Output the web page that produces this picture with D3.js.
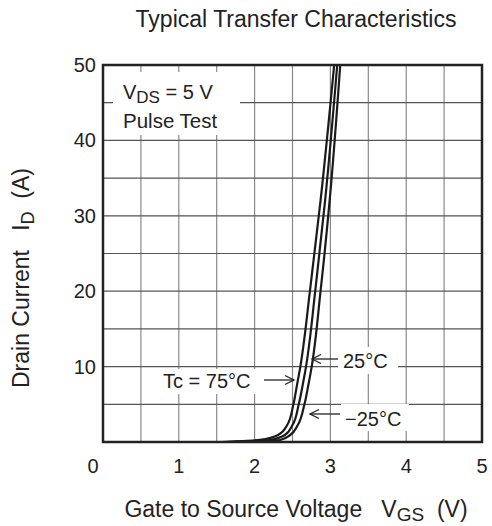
<!DOCTYPE html>
<html>
<head>
	<script src="https://cdn.jsdelivr.net/npm/d3@7"></script>
	<style>
		html, body {
			padding: 0;
			margin: 0;
			background: white;
		}
		text {
			font-family: "Liberation Sans", Arial, sans-serif;
			fill: #222;
			white-space: pre;
		}
	</style>
</head>
<body>
	<script>
		var width = 492, height = 526;

		// data
		var xTicks = [0, 1, 2, 3, 4, 5];
		var yTicks = [10, 20, 30, 40, 50];
		var currents = [0, 0.27, 0.93, 2.25, 4.9, 7.6, 9.5, 20, 32, 50];
		var vgs75  = [1.55, 2.07, 2.31, 2.43, 2.51, 2.56, 2.595, 2.73, 2.87, 3.05];
		var vgs25  = [1.62, 2.20, 2.40, 2.50, 2.58, 2.635, 2.67, 2.80, 2.93, 3.09];
		var vgsM25 = [1.70, 2.34, 2.47, 2.57, 2.655, 2.71, 2.745, 2.87, 2.99, 3.13];

		var svg = d3.select('body').append('svg')
			.attr('width', width)
			.attr('height', height);

		var x = d3.scaleLinear().domain([0, 5]).range([103, 482]);
		var y = d3.scaleLinear().domain([0, 50]).range([442, 65]);

		/* grid */
		var vGrid = d3.range(0.5, 5, 0.5);
		var hGrid = d3.range(5, 50, 5);
		svg.selectAll('.vg').data(vGrid).enter().append('line')
			.attr('x1', d => x(d)).attr('x2', d => x(d))
			.attr('y1', y(50)).attr('y2', y(0))
			.style('stroke', '#8a8a8a').style('stroke-width', 1.2);
		svg.selectAll('.hg').data(hGrid).enter().append('line')
			.attr('x1', x(0)).attr('x2', x(5))
			.attr('y1', d => y(d)).attr('y2', d => y(d))
			.style('stroke', '#555').style('stroke-width', 1.2);

		/* white boxes behind text, covering grid */
		var boxes = [
			[113, 72, 127, 63],
			[158, 369, 100, 25],
			[338, 347, 60, 27],
			[341, 404, 68, 27]
		];
		boxes.forEach(function(b) {
			svg.append('rect').attr('x', b[0]).attr('y', b[1])
				.attr('width', b[2]).attr('height', b[3]).style('fill', 'white');
		});

		/* curves */
		var line = d3.line()
			.x(d => x(d[0]))
			.y(d => y(d[1]))
			.curve(d3.curveMonotoneY);
		[vgs75, vgs25, vgsM25].forEach(function(v) {
			svg.append('path')
				.datum(v.map((vv, j) => [vv, currents[j]]))
				.attr('d', line)
				.style('fill', 'none')
				.style('stroke', '#1a1a1a')
				.style('stroke-width', 2.2);
		});

		/* frame */
		svg.append('rect')
			.attr('x', x(0)).attr('y', y(50))
			.attr('width', x(5) - x(0)).attr('height', y(0) - y(50))
			.style('fill', 'none').style('stroke', '#222').style('stroke-width', 2.5);

		/* tick labels */
		svg.selectAll('.xt').data(xTicks).enter().append('text')
			.attr('x', d => x(d) + (d === 0 ? -10 : 0))
			.attr('y', 473)
			.attr('text-anchor', 'middle')
			.style('font-size', '20px')
			.text(d => d);
		svg.selectAll('.yt').data(yTicks).enter().append('text')
			.attr('x', 96)
			.attr('y', d => y(d) + 7)
			.attr('text-anchor', 'end')
			.style('font-size', '20px')
			.text(d => d);

		/* title and axis titles */
		svg.append('text').attr('x', 296).attr('y', 27)
			.attr('text-anchor', 'middle').style('font-size', '23px')
			.text('Typical Transfer Characteristics');

		var xl = svg.append('text').attr('x', 296).attr('y', 517)
			.attr('text-anchor', 'middle').style('font-size', '23px');
		xl.append('tspan').text('Gate to Source Voltage   V');
		xl.append('tspan').attr('dy', 4).style('font-size', '19px').text('GS');
		xl.append('tspan').attr('dy', -4).text('  (V)');

		var yl = svg.append('text')
			.attr('transform', 'translate(29,278) rotate(-90)')
			.attr('text-anchor', 'middle').style('font-size', '23px');
		yl.append('tspan').text('Drain Current   I');
		yl.append('tspan').attr('dy', 5).style('font-size', '18px').text('D');
		yl.append('tspan').attr('dy', -5).text('  (A)');

		/* legend */
		var lg = svg.append('text').attr('x', 123).attr('y', 99).style('font-size', '20px');
		lg.append('tspan').text('V');
		lg.append('tspan').attr('dy', 4).style('font-size', '17px').text('DS');
		lg.append('tspan').attr('dy', -4).text(' = 5 V');
		svg.append('text').attr('x', 123).attr('y', 128).style('font-size', '20.5px').text('Pulse Test');

		/* curve labels with arrows */
		var labels = [
			{ text: 'Tc = 75\u00b0C', tx: 163, ty: 388, ax1: 264, ax2: 294, ay: 380 },
			{ text: '25\u00b0C', tx: 343, ty: 368, ax1: 338, ax2: 312, ay: 359 },
			{ text: '\u221225\u00b0C', tx: 345, ty: 426, ax1: 340, ax2: 310, ay: 414 }
		];
		labels.forEach(function(l) {
			svg.append('text').attr('x', l.tx).attr('y', l.ty)
				.style('font-size', '20px').text(l.text);
			var dir = l.ax2 > l.ax1 ? 1 : -1;
			svg.append('line')
				.attr('x1', l.ax1).attr('x2', l.ax2).attr('y1', l.ay).attr('y2', l.ay)
				.style('stroke', '#222').style('stroke-width', 1.3);
			svg.append('path')
				.attr('d', 'M' + (l.ax2 - dir * 9) + ',' + (l.ay - 4.5) + 'L' + l.ax2 + ',' + l.ay + 'L' + (l.ax2 - dir * 9) + ',' + (l.ay + 4.5))
				.style('fill', 'none').style('stroke', '#222').style('stroke-width', 1.3);
		});
	</script>
</body>
</html>
